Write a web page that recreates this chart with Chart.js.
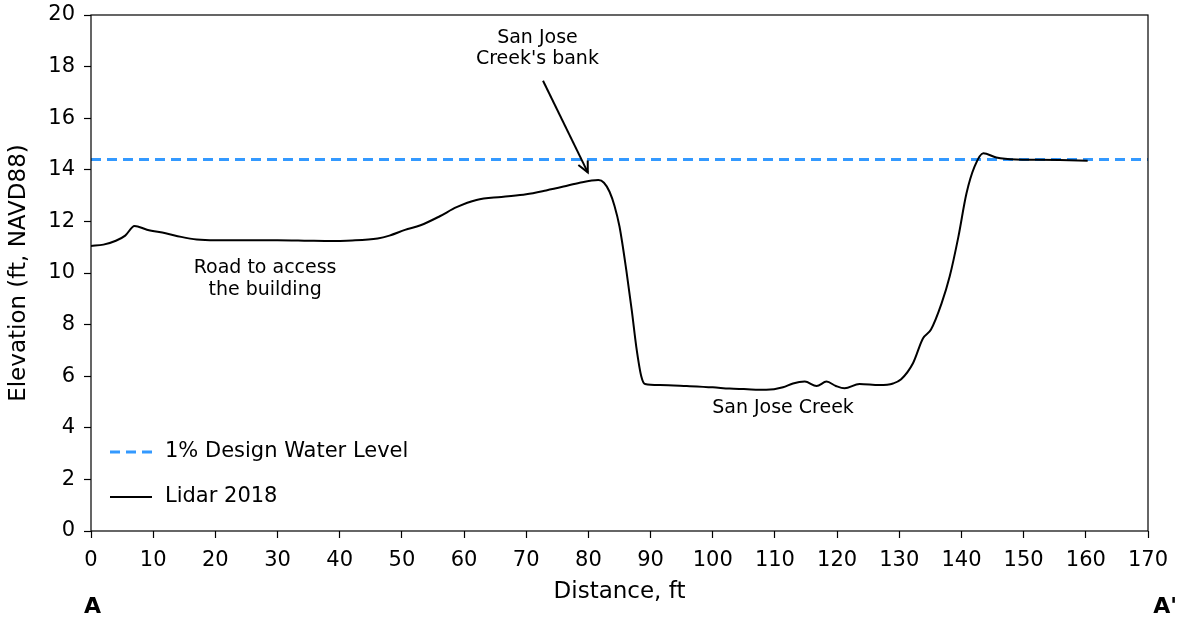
<!DOCTYPE html>
<html>
<head>
<meta charset="utf-8">
<script src="https://cdn.jsdelivr.net/npm/chart.js@4/dist/chart.umd.min.js"></script>
<style>
  html, body { margin: 0; padding: 0; background: #fff; }
  #wrap { width: 1182px; height: 621px; position: relative; }
</style>
</head>
<body>
<div id="wrap"><canvas id="mainChart" width="1182" height="621"></canvas></div>
<script>
// lidar profile
var distance = [0, 2, 4, 5.5, 7, 9, 12, 14.5, 17, 20, 25, 30, 35, 37.6, 42, 46.1, 48, 50.5, 53, 56.1, 58.8, 62, 66, 70, 73.2, 76, 78.6, 81.6, 82.5, 83.4, 84.2, 85, 86.1, 87, 87.7, 88.5, 89.1, 91.5, 95.8, 100, 102.7, 105, 108.6, 111.3, 112.9, 114.8, 116.7, 118.3, 119.8, 121.2, 123.6, 126.8, 129, 130.3, 132.2, 133.8, 135.1, 136.8, 138.1, 139.5, 140.8, 142.1, 143.5, 145.6, 148.8, 152, 155.8, 160.3];
var elevation = [11.05, 11.1, 11.25, 11.45, 11.82, 11.68, 11.54, 11.4, 11.3, 11.27, 11.27, 11.27, 11.25, 11.24, 11.26, 11.34, 11.45, 11.67, 11.85, 12.2, 12.55, 12.83, 12.95, 13.05, 13.2, 13.35, 13.5, 13.6, 13.5, 13.15, 12.6, 11.8, 10.1, 8.5, 7.14, 6.0, 5.7, 5.66, 5.62, 5.57, 5.52, 5.5, 5.47, 5.57, 5.72, 5.79, 5.62, 5.79, 5.62, 5.53, 5.7, 5.66, 5.72, 5.88, 6.5, 7.46, 7.81, 8.82, 9.86, 11.4, 13.08, 14.12, 14.64, 14.48, 14.4, 14.39, 14.38, 14.35];

var waterX = [0, 170];
var waterLevel = [14.4, 14.4];

var xTicks = [0, 10, 20, 30, 40, 50, 60, 70, 80, 90, 100, 110, 120, 130, 140, 150, 160, 170];
var yTicks = [0, 2, 4, 6, 8, 10, 12, 14, 16, 18, 20];

var seriesNames = ['1% Design Water Level', 'Lidar 2018'];

var FONT = 'DejaVu Sans';

function pts(xs, ys) {
  return xs.map(function (x, i) { return { x: x, y: ys[i] }; });
}

// box, annotations, legend and section letters
var extras = {
  id: 'extras',
  afterDatasetsDraw: function (chart) {
    var ctx = chart.ctx;
    var a = chart.chartArea;
    var xs = chart.scales.x, ys = chart.scales.y;
    ctx.save();
    ctx.strokeStyle = '#000';
    ctx.lineWidth = 1.2;
    ctx.strokeRect(a.left, a.top, a.right - a.left, a.bottom - a.top);

    ctx.fillStyle = '#000';
    ctx.font = '19px ' + FONT;
    ctx.textAlign = 'center';
    ctx.textBaseline = 'middle';
    ctx.fillText('San Jose', xs.getPixelForValue(71.8), ys.getPixelForValue(19.1));
    ctx.fillText("Creek's bank", xs.getPixelForValue(71.8), ys.getPixelForValue(18.28));
    ctx.fillText('Road to access', xs.getPixelForValue(28), ys.getPixelForValue(10.2));
    ctx.fillText('the building', xs.getPixelForValue(28), ys.getPixelForValue(9.35));
    ctx.fillText('San Jose Creek', xs.getPixelForValue(111.3), ys.getPixelForValue(4.77));

    // arrow
    var x1 = xs.getPixelForValue(72.7), y1 = ys.getPixelForValue(17.45);
    var x2 = xs.getPixelForValue(79.9), y2 = ys.getPixelForValue(13.9);
    ctx.lineWidth = 2;
    ctx.beginPath();
    ctx.moveTo(x1, y1);
    ctx.lineTo(x2, y2);
    ctx.stroke();
    var ang = Math.atan2(y2 - y1, x2 - x1);
    ctx.beginPath();
    ctx.moveTo(x2 - 12 * Math.cos(ang - 0.45), y2 - 12 * Math.sin(ang - 0.45));
    ctx.lineTo(x2, y2);
    ctx.lineTo(x2 - 12 * Math.cos(ang + 0.45), y2 - 12 * Math.sin(ang + 0.45));
    ctx.stroke();

    // legend
    ctx.textAlign = 'left';
    ctx.font = '21px ' + FONT;
    ctx.strokeStyle = '#3399ff';
    ctx.lineWidth = 3;
    ctx.setLineDash([10, 6]);
    ctx.beginPath();
    ctx.moveTo(110, 452);
    ctx.lineTo(152, 452);
    ctx.stroke();
    ctx.setLineDash([]);
    ctx.strokeStyle = '#000';
    ctx.lineWidth = 2;
    ctx.beginPath();
    ctx.moveTo(110, 497);
    ctx.lineTo(152, 497);
    ctx.stroke();
    ctx.fillText(seriesNames[0], 165, 452);
    ctx.fillText(seriesNames[1], 165, 497);

    // section ends
    ctx.font = 'bold 22px ' + FONT;
    ctx.textAlign = 'left';
    ctx.fillText('A', 84, 607);
    ctx.textAlign = 'right';
    ctx.fillText("A'", 1177, 607);
    ctx.restore();
  }
};

new Chart(document.getElementById('mainChart').getContext('2d'), {
  type: 'scatter',
  data: {
    datasets: [
      {
        label: seriesNames[0],
        data: pts(waterX, waterLevel),
        showLine: true,
        borderColor: '#3399ff',
        borderWidth: 3,
        borderDash: [10, 6],
        pointRadius: 0,
        order: 2
      },
      {
        label: seriesNames[1],
        data: pts(distance, elevation),
        showLine: true,
        borderColor: '#000',
        borderWidth: 2,
        cubicInterpolationMode: 'monotone',
        pointRadius: 0,
        order: 1
      }
    ]
  },
  options: {
    responsive: false,
    animation: false,
    layout: { padding: { top: 15, right: 34, left: 0, bottom: 0 } },
    plugins: { legend: { display: false }, tooltip: { enabled: false } },
    scales: {
      x: {
        type: 'linear', min: 0, max: 170,
        afterBuildTicks: function (s) { s.ticks = xTicks.map(function (v) { return { value: v }; }); },
        afterFit: function (s) { s.height = 90; s.paddingLeft = 0; s.paddingRight = 0; },
        grid: { drawOnChartArea: false, tickLength: 7, color: '#000', tickWidth: 1.2 },
        border: { display: false },
        ticks: { color: '#000', font: { family: FONT, size: 21 }, padding: 10, maxRotation: 0, autoSkip: false },
        title: { display: true, text: 'Distance, ft', color: '#000', font: { family: FONT, size: 23 }, padding: { top: 15, bottom: 15 } }
      },
      y: {
        type: 'linear', min: 0, max: 20,
        afterBuildTicks: function (s) { s.ticks = yTicks.map(function (v) { return { value: v }; }); },
        afterFit: function (s) { s.width = 91; s.paddingTop = 0; s.paddingBottom = 0; },
        grid: { drawOnChartArea: false, tickLength: 7, color: '#000', tickWidth: 1.2 },
        border: { display: false },
        ticks: { color: '#000', font: { family: FONT, size: 21 }, padding: 9, autoSkip: false },
        title: { display: true, text: 'Elevation (ft, NAVD88)', color: '#000', font: { family: FONT, size: 23 }, padding: { top: 5, bottom: 5 } }
      }
    }
  },
  plugins: [extras]
});
</script>
</body>
</html>
